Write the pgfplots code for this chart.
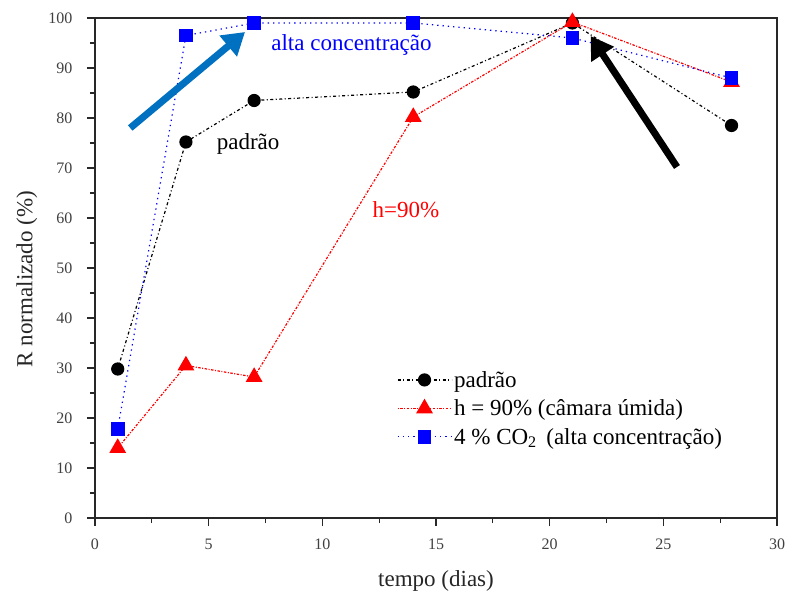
\documentclass[border=0pt]{standalone}
\usepackage{fontspec}
\setmainfont{Liberation Serif}
\usepackage{pgfplots}
\pgfplotsset{compat=1.18}
\usetikzlibrary{arrows.meta,calc}
\definecolor{arrowblue}{RGB}{0,112,192}
\definecolor{axgray}{RGB}{40,40,40}

\begin{document}
\begin{tikzpicture}
\begin{axis}[
    scale only axis,
    width=682pt, height=500pt,
    xmin=0, xmax=30, ymin=0, ymax=100,
    xtick={0,5,...,30}, ytick={0,10,...,100},
    minor x tick num=1, minor y tick num=1,
    xtick pos=bottom, ytick pos=left,
    tick align=outside,
    major tick length=8pt, minor tick length=5pt,
    axis line style={axgray, line width=1.3pt},
    every tick/.style={axgray, line width=1.1pt},
    /pgf/number format/assume math mode=true,
    tick label style={font=\fontsize{16}{18}\selectfont, text=black!75},
    xticklabel style={yshift=-9pt},
    yticklabel style={xshift=-11pt},
    xlabel={tempo (dias)},
    ylabel={R normalizado (\%)},
    label style={font=\fontsize{23}{25}\selectfont, text=black!85},
    xlabel style={at={(axis description cs:0.5,-0.126)}, anchor=center},
    ylabel style={at={(axis description cs:-0.1,0.478)}, anchor=center},
    legend style={draw=none, fill=none, at={(0.438,0.302)}, anchor=north west,
        font=\fontsize{23}{26}\selectfont, row sep=7pt},
    legend cell align=left,
    legend image code/.code={
        \draw[mark repeat=2, mark phase=2] plot coordinates {(0pt,0pt) (27pt,0pt) (54pt,0pt)};
    },
]
% padrão
\addplot[black, line width=1.2pt, dash pattern=on 3pt off 2.5pt on 1pt off 2.5pt,
    mark=*, mark size=6pt, mark options={solid}] coordinates {
    (1,29.8) (4,75.2) (7,83.5) (14,85.2) (21,99.0) (28,78.5)
};
\addlegendentry{padrão}
% h = 90%
\addplot[red, line width=1.2pt, dash pattern=on 1pt off 1.5pt on 2.5pt off 1.5pt,
    mark=triangle*, mark size=8.5pt, mark options={solid}] coordinates {
    (1,14.0) (4,30.5) (7,28.2) (14,80.2) (21,99.2) (28,87.2)
};
\addlegendentry{h = 90\% (câmara úmida)}
% 4 % CO2
\addplot[blue, line width=1.2pt, dash pattern=on 1.3pt off 4pt,
    mark=square*, mark size=6.3pt, mark options={solid}] coordinates {
    (1,17.8) (4,96.5) (7,99.0) (14,99.0) (21,96.0) (28,88.0)
};
\addlegendentry{4 \% CO\textsubscript{2}\, (alta concentração)}

% annotations
\node[blue, font=\fontsize{23}{26}\selectfont, anchor=west, inner sep=0pt] at (axis cs:7.75,94.6) {alta concentração};
\node[black, font=\fontsize{23}{26}\selectfont, anchor=west, inner sep=0pt] at (axis cs:5.35,74.8) {padrão};
\node[red, font=\fontsize{23}{26}\selectfont, anchor=west, inner sep=0pt] at (axis cs:12.2,61.6) {h=90\%};
\draw[arrowblue, line width=7pt, -{Triangle[length=22pt,width=26pt]}]
    (axis cs:1.55,78.0) -- (axis cs:6.6,97.2);
\draw[black, line width=7pt, -{Triangle[length=22pt,width=26pt]}]
    (axis cs:25.6,70.2) -- (axis cs:21.8,96.4);

\coordinate (ll) at (rel axis cs:0,0);
\coordinate (ur) at (rel axis cs:1,1);
\end{axis}
\pgfresetboundingbox
\path[use as bounding box] ($(ll)+(-95pt,-76pt)$) rectangle ($(ur)+(9pt,18pt)$);
\end{tikzpicture}
\end{document}
